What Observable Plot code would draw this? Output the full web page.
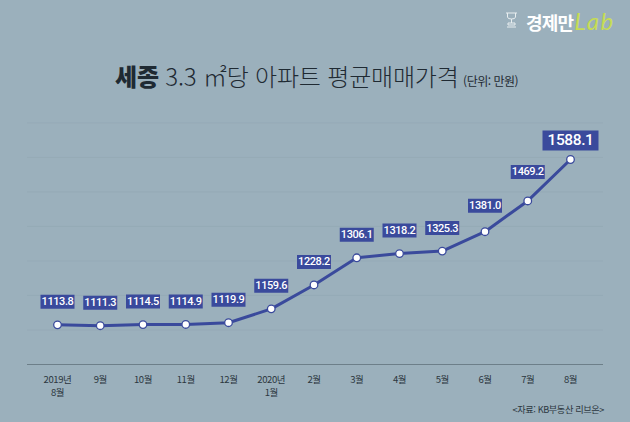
<!DOCTYPE html>
<html lang="ko">
<head>
<meta charset="utf-8">
<script src="https://cdn.jsdelivr.net/npm/d3@7"></script>
<script src="https://cdn.jsdelivr.net/npm/@observablehq/plot@0.6"></script>
<style>
  html, body { margin: 0; padding: 0; background: #9bb0bc; }
  body { width: 630px; height: 422px; position: relative; overflow: hidden; font-family: "Noto Sans CJK KR", sans-serif; }
  #chart { position: absolute; left: 0; top: 100px; }
  #chart svg { display: block; background: transparent; }
  #chart g[aria-label="x-axis tick label"] { letter-spacing: -0.4px; }
  #chart g[aria-label="text"] { letter-spacing: -0.4px; }
  .brand { position: absolute; left: 526px; top: 8px; color: #fff; font-size: 18px; font-weight: 700; letter-spacing: -0.8px; white-space: nowrap; line-height: 26px; }
  .brand i { font-family: "Lato", "DejaVu Sans"; font-weight: 400; font-style: italic; color: #c6dc55; font-size: 24px; letter-spacing: 1.5px; margin-left: 1px; }
  .cup { position: absolute; left: 505px; top: 12px; }
  h1 { position: absolute; left: 115px; top: 59px; margin: 0; font-size: 24px; line-height: 34px; font-weight: 300; color: #1f2a33; letter-spacing: -0.2px; white-space: nowrap; }
  h1 b { font-weight: 900; letter-spacing: -0.2px; }
  h1 small { font-size: 12px; font-weight: 400; letter-spacing: -0.5px; margin-left: -2px; }
  .source { position: absolute; right: 26px; top: 402px; font-size: 9.2px; line-height: 14px; color: #2c3740; letter-spacing: -0.4px; white-space: nowrap; }
</style>
</head>
<body>
<svg class="cup" width="13" height="17" viewBox="0 0 13 17" fill="none" stroke="#e8eef0" stroke-width="1"><path d="M1 1h11M2.5 1v4q0 2 4 2t4-2V1M6.5 7v4M3 11h7v2H3zM2 15h9"/></svg>
<div class="brand">경제만<i>Lab</i></div>
<h1><b>세종</b> 3.3 ㎡당 아파트 평균매매가격 <small>(단위: 만원)</small></h1>
<div id="chart"></div>
<div class="source">&lt;자료: KB부동산 리브온&gt;</div>
<script>
const months = ["2019년\n8월","9월","10월","11월","12월","2020년\n1월","2월","3월","4월","5월","6월","7월","8월"];
const prices = [1113.8,1111.3,1114.5,1114.9,1119.9,1159.6,1228.2,1306.1,1318.2,1325.3,1381.0,1469.2,1588.1];
const gridLevels = [1099,1198,1297,1396,1495,1594,1693];
const baseLevel = 1000;

const rows = months.map((m, i) => ({month: m, price: prices[i]}));
const navy = "#3a4a9c";
const box = (w, h) => ({draw(c) { c.rect(-w / 2, -h / 2, w, h); }});
const fmt = d => d.price.toFixed(1);

function label(data, dy, w, h, size) {
  return [
    Plot.dot(data, {x: "month", y: "price", dy, symbol: box(w, h), r: 5, fill: navy, stroke: "none"}),
    Plot.text(data, {x: "month", y: "price", dy, text: fmt, fill: "white", fontSize: size, fontWeight: 500, fontFamily: "Roboto", textAnchor: "middle"})
  ];
}
const last = rows.length - 1;

const chart = Plot.plot({
  width: 630,
  height: 300,
  marginLeft: 27,
  marginRight: 27,
  marginTop: 0,
  marginBottom: 36,
  style: {background: "transparent"},
  x: {type: "point", domain: months, padding: 0, round: false, insetLeft: 30, insetRight: 33},
  y: {domain: [1000, 1700], range: [264, 20], axis: null},
  marks: [
    Plot.ruleY(gridLevels, {stroke: "#94a9b5", strokeWidth: 0.8}),
    Plot.ruleY([baseLevel], {stroke: "#6d7f89", strokeWidth: 1.2}),
    Plot.axisX({
      tickSize: 0,
      tickPadding: 9,
      label: null,
      fontSize: 9.5,
      fontFamily: "Noto Sans CJK KR",
      fill: "#2c3740",
      lineHeight: 1.4,
      tickFormat: d => d
    }),
    Plot.line(rows, {x: "month", y: "price", stroke: navy, strokeWidth: 3}),
    Plot.dot(rows, {x: "month", y: "price", r: 3.8, fill: "white", stroke: navy, strokeWidth: 1.3}),
    ...label(rows.slice(0, 10), -23, 34, 14, 11),
    ...label(rows.slice(10, 11), -26, 34, 14, 11),
    ...label(rows.slice(11, 12), -29, 34, 14, 11),
    ...label(rows.slice(last), -19, 56, 20, 15.5)
  ]
});
document.getElementById("chart").append(chart);
</script>
</body>
</html>
